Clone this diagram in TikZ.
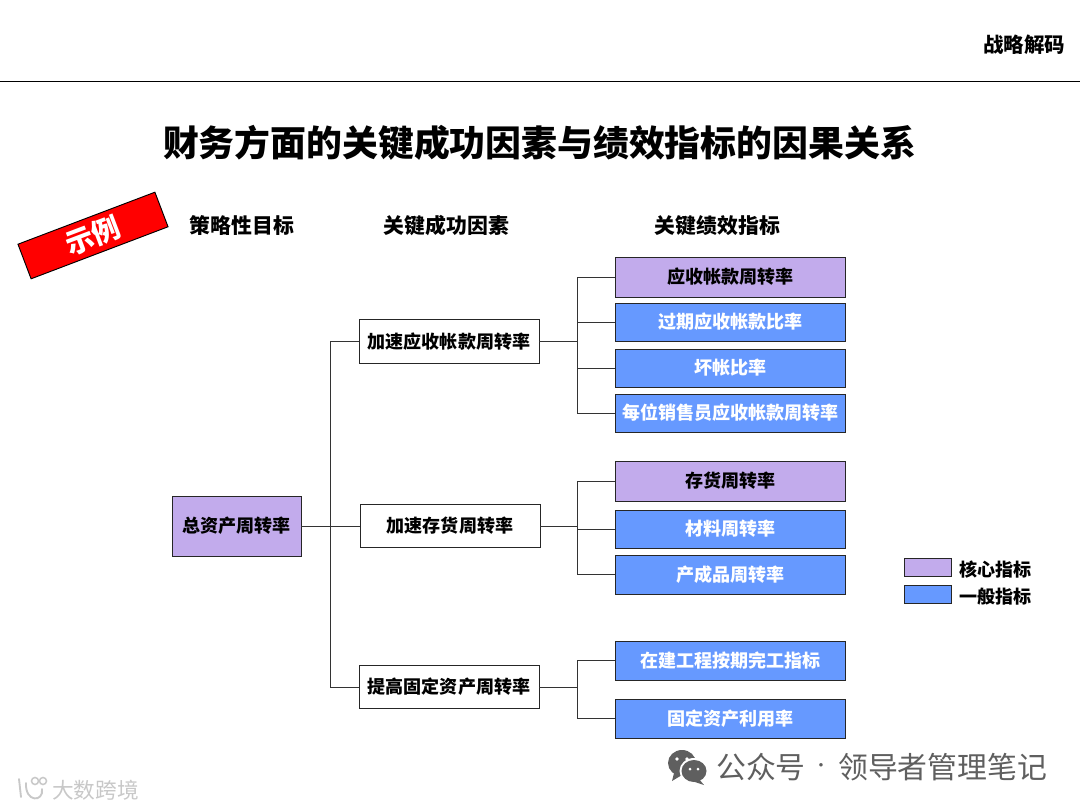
\documentclass[tikz,border=0pt]{standalone}
\usepackage{fontspec}
\setmainfont{Noto Sans CJK SC}
\usepackage{tikz}
\usetikzlibrary{arrows.meta, positioning, calc}
\definecolor{corec}{HTML}{C2ABEC}
\definecolor{normc}{HTML}{6699FF}
\definecolor{stampc}{HTML}{FF0000}
\definecolor{linec}{HTML}{333333}
\definecolor{markc}{HTML}{5F5F5F}
\definecolor{logoc}{HTML}{C8C8C8}
\newcommand{\px}{0.03cm}
\newcommand{\kpi}[6]{%
  \node[draw=black!85, fill=#5, text=#6, line width=0.8pt, inner sep=0pt, outer sep=0pt,
        font=\fontsize{15.4}{18}\bfseries,
        minimum width=230.5*\px, minimum height=#3*\px] (#1) at #2 {\raisebox{-0.9pt}{#4}};
}
\newcommand{\factor}[3]{%
  \node[draw=black!85, fill=white, line width=0.8pt, inner sep=0pt, outer sep=0pt,
        font=\fontsize{15.4}{18}\bfseries,
        minimum width=180*\px, minimum height=43.5*\px] (#1) at #2 {\raisebox{-0.9pt}{#3}};
}
\begin{document}
\begin{tikzpicture}[x=0.03cm, y=-0.03cm, font=\bfseries]
  \useasboundingbox (0,0) rectangle (1080,810);
  % top
  \coordinate (ruleL) at (0,81);
  \coordinate (ruleR) at (1080,81);
  \draw[black, line width=0.8pt] (ruleL) -- (ruleR);
  \node[font=\fontsize{17.5}{20}\bfseries, anchor=east, inner sep=0pt] (tag) at (1065.5,45) {战略解码};
  \node[font=\fontsize{30.6}{36}\bfseries] (title) at (539.5,143) {财务方面的关键成功因素与绩效指标的因果关系};
  % stamp
  \node[draw=black, fill=stampc, line width=0.8pt, rotate=20.8, inner sep=0pt,
        text=white, font=\fontsize{24}{26}\bfseries,
        minimum width=146.5*\px, minimum height=37*\px] (stamp) at (93,235.5) {示例};
  % column heads
  \node[font=\fontsize{17.8}{20}\bfseries] (headA) at (242,225.5) {策略性目标};
  \node[font=\fontsize{17.8}{20}\bfseries] (headB) at (446.5,225.5) {关键成功因素};
  \node[font=\fontsize{17.8}{20}\bfseries] (headC) at (717.5,225.5) {关键绩效指标};
  % tree
  \node[draw=black!85, fill=corec, line width=0.8pt, inner sep=0pt, outer sep=0pt,
        font=\fontsize{15.4}{18}\bfseries,
        minimum width=129*\px, minimum height=60*\px] (goal) at (236.5,526) {\raisebox{-0.9pt}{总资产周转率}};
  \factor{fa}{(449,341.5)}{加速应收帐款周转率}
  \factor{fb}{(450,526)}{加速存货周转率}
  \factor{fc}{(449,687)}{提高固定资产周转率}
  \kpi{ka1}{(730.5,277)}{40}{应收帐款周转率}{corec}{black}
  \kpi{ka2}{(730.5,322)}{38}{过期应收帐款比率}{normc}{white}
  \kpi{ka3}{(730.5,368)}{38}{坏帐比率}{normc}{white}
  \kpi{ka4}{(730.5,413)}{38}{每位销售员应收帐款周转率}{normc}{white}
  \kpi{kb1}{(730.5,481)}{40}{存货周转率}{corec}{black}
  \kpi{kb2}{(730.5,529)}{38}{材料周转率}{normc}{white}
  \kpi{kb3}{(730.5,574.5)}{39}{产成品周转率}{normc}{white}
  \kpi{kc1}{(730.5,660.5)}{39}{在建工程按期完工指标}{normc}{white}
  \kpi{kc2}{(730.5,718.5)}{39}{固定资产利用率}{normc}{white}
  \coordinate (j0) at (330,526);
  \coordinate (ja) at (577,341.5);
  \coordinate (jb) at (577,526);
  \coordinate (jc) at (577,687);
  \draw[linec, line width=0.8pt] (goal) -- (fb);
  \draw[linec, line width=0.8pt] (j0) |- (fa);
  \draw[linec, line width=0.8pt] (j0) |- (fc);
  \draw[linec, line width=0.8pt] (fa) -- (ja);
  \draw[linec, line width=0.8pt] (fb) -- (jb);
  \draw[linec, line width=0.8pt] (fc) -- (jc);
  \foreach \i in {1,2,3,4} \draw[linec, line width=0.8pt] (ja) |- (ka\i);
  \foreach \i in {1,2,3} \draw[linec, line width=0.8pt] (jb) |- (kb\i);
  \foreach \i in {1,2} \draw[linec, line width=0.8pt] (jc) |- (kc\i);
  % legend
  \node[draw=black!85, fill=corec, line width=0.8pt, minimum width=47*\px, minimum height=18*\px, inner sep=0pt] (keyA) at (927.5,567.5) {};
  \node[draw=black!85, fill=normc, line width=0.8pt, minimum width=47*\px, minimum height=18*\px, inner sep=0pt] (keyB) at (927.5,594) {};
  \node[font=\fontsize{15.4}{18}\bfseries, anchor=west, inner sep=0pt] (keyAt) at (959,569.5) {核心指标};
  \node[font=\fontsize{15.4}{18}\bfseries, anchor=west, inner sep=0pt] (keyBt) at (959,596.5) {一般指标};
  % marks
  \fill[markc] (682,763) ellipse (14 and 13);
  \fill[markc] (674,773) -- (672,781) -- (682,775) -- cycle;
  \fill[white] (694,771) ellipse (14.5 and 13);
  \fill[markc] (694,771) ellipse (12.5 and 11);
  \fill[markc] (699,779) -- (704,785) -- (692,781) -- cycle;
  \fill[white] (677,759) circle (1.8) (687,759) circle (1.8) (690,769) circle (1.5) (698,769) circle (1.5);
  \node[text=markc, font=\fontsize{25.5}{28}\selectfont, anchor=west, inner sep=0pt] (markA) at (716,767) {公众号};
  \node[text=markc, font=\fontsize{14}{16}\selectfont, inner sep=0pt] (markDot) at (821,768) {·};
  \node[text=markc, font=\fontsize{25.5}{28}\selectfont, anchor=west, inner sep=0pt] (markB) at (838,767) {领导者管理笔记};
  \draw[logoc, line width=1.6pt, line cap=round] (19,779) -- (21,797);
  \draw[logoc, line width=1.6pt, line cap=round] (26,783) .. controls (25,803) and (44,802) .. (42,789);
  \draw[logoc, line width=1.3pt] (35,781) circle (3.5) (43,781) circle (3.5);
  \node[text=logoc, font=\fontsize{18.5}{22}\selectfont, anchor=west, inner sep=0pt] (logoT) at (52,790) {大数跨境};
\end{tikzpicture}
\end{document}
